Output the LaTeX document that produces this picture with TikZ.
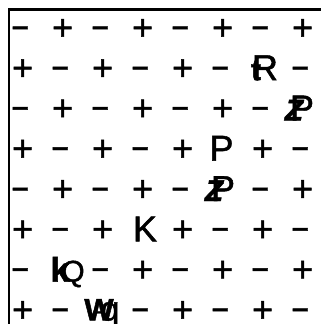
\documentclass[tikz,border=0pt]{standalone}
\usepackage{fontspec}
\setmainfont{Liberation Sans}
\newfontfamily\heavy{Liberation Sans}[FakeBold=1.3]
\newfontfamily\heavier{Liberation Sans Bold}[FakeBold=1.5]
\begin{document}
\begin{tikzpicture}[x=1pt,y=-1pt,
  glyph/.style={anchor=base, inner sep=0pt, font=\heavy\fontsize{36}{36}\selectfont},
  overlay/.style={anchor=base, inner sep=0pt, font=\heavier\fontsize{30}{30}\selectfont}]
\useasboundingbox (0,0) rectangle (321,324);
\draw[line width=2.6pt] (8.8,324) -- (8.8,9.6) -- (321,9.6);
\expandafter\def\csname pc-6-1\endcsname{}
\expandafter\def\csname pc-7-2\endcsname{}
\expandafter\def\csname pc-5-3\endcsname{}
\expandafter\def\csname pc-5-4\endcsname{}
\expandafter\def\csname pc-3-5\endcsname{}
\expandafter\def\csname pc-1-6\endcsname{}
\expandafter\def\csname pc-2-7\endcsname{}
\foreach \j in {0,...,7}{
  \foreach \i in {0,...,7}{
    \pgfmathsetmacro\cx{21.5+40*\i}
    \pgfmathsetmacro\by{27+40.3*\j+12.8}
    \pgfmathtruncatemacro\s{mod(\i+\j,2)}
    \ifcsname pc-\i-\j\endcsname\else
      \ifnum\s=0
        \node[glyph] (n\i\j) at (\cx-1.2,\by) {\scalebox{0.85}[1]{−}};
      \else
        \node[glyph] (n\i\j) at (\cx+1.2,\by) {+};
      \fi
    \fi
  }
}
% pieces
\node[glyph] (rook) at (265,80.1) {R};
\node[overlay] (rookx) at (256,80.1) {t};
\node[glyph] (pawna) at (302,120.4) {P};
\node[overlay, font=\heavier\fontsize{30}{30}\selectfont\itshape] (pawnax) at (294,120.4) {Z};
\node[glyph] (pawnb) at (221.5,160.7) {P};
\node[glyph] (pawnc) at (223,201) {P};
\node[overlay, font=\heavier\fontsize{30}{30}\selectfont\itshape] (pawncx) at (214,201) {Z};
\node[glyph] (king) at (145,241.3) {K};
\node[overlay, font=\heavier\fontsize{34}{34}\selectfont] (kn1) at (60,281.6) {k};
\node[glyph, font=\heavy\fontsize{30}{30}\selectfont] (kn2) at (73,281.6) {Q};
\node[overlay, font=\heavier\fontsize{31}{31}\selectfont] (wq1) at (99,320.5) {W};
\node[glyph, font=\heavy\fontsize{25}{25}\selectfont] (wq2) at (99,318.5) {A};
\node[glyph, font=\heavy\fontsize{34}{34}\selectfont] (wq3) at (110,320.5) {q};
\end{tikzpicture}
\end{document}
